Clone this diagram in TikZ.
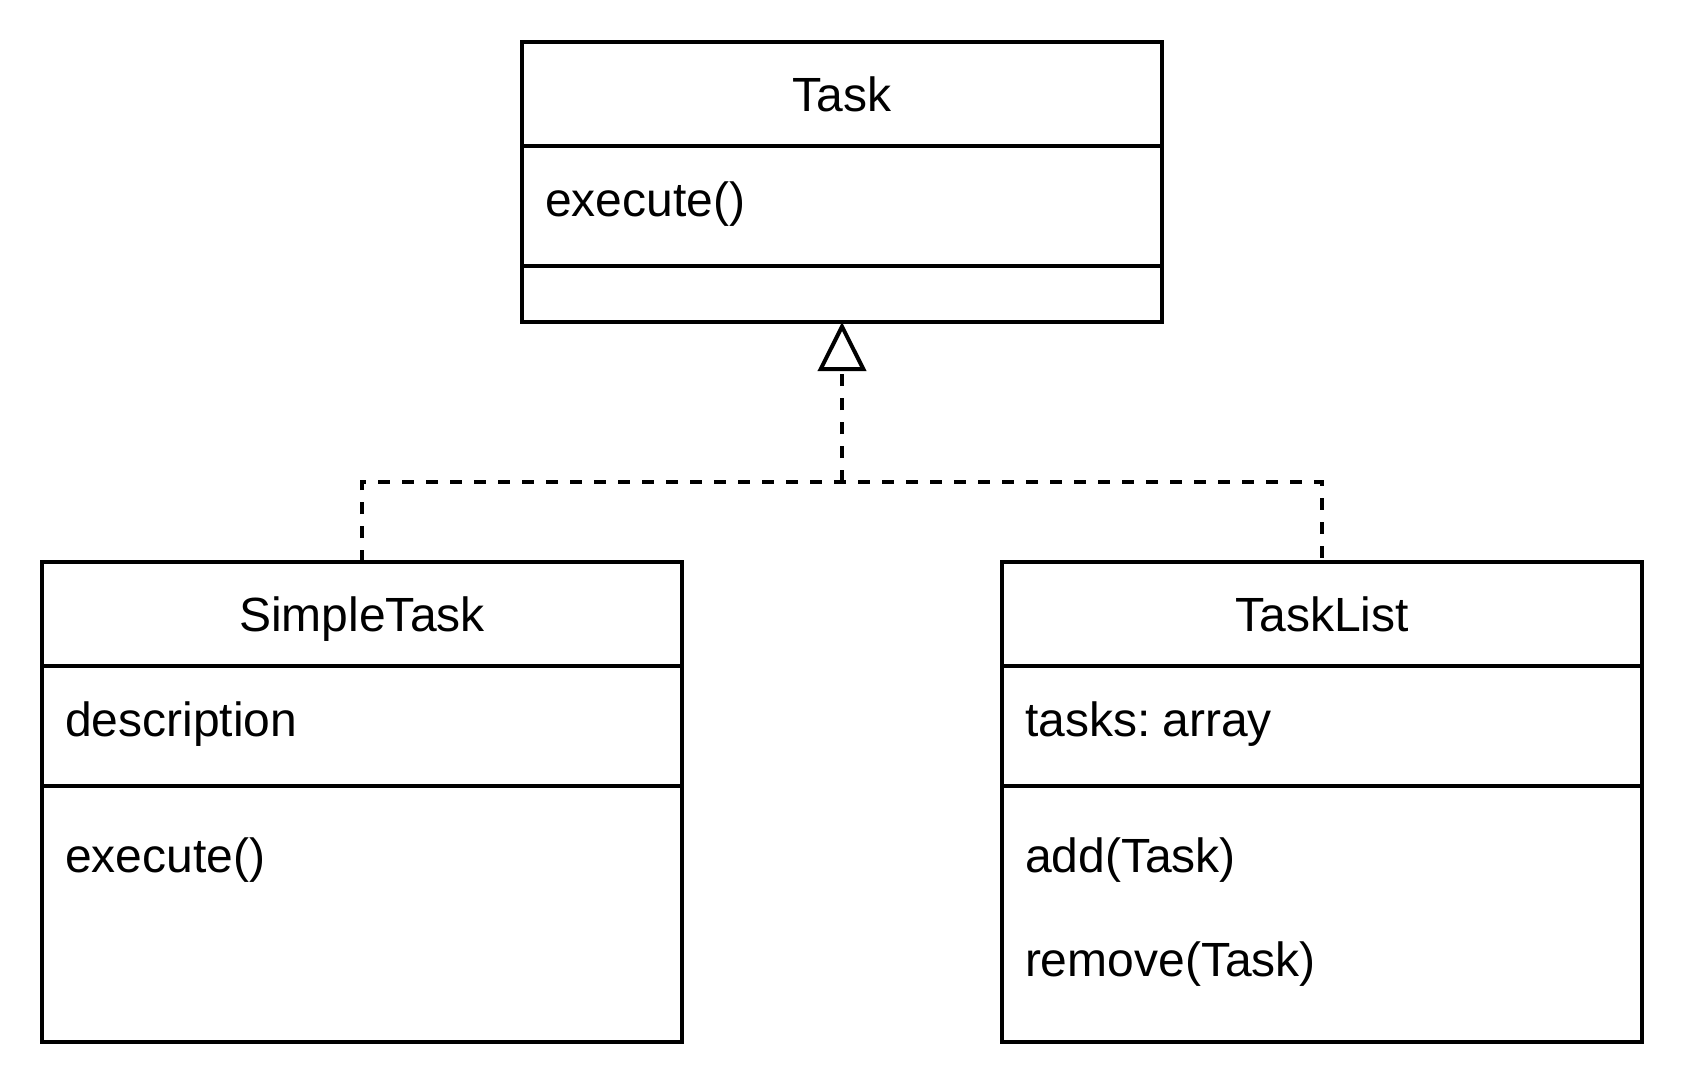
\documentclass[tikz,border=0pt]{standalone}
\usepackage{fontspec}
\setmainfont{Liberation Sans}
\usetikzlibrary{arrows.meta}
\begin{document}
\begin{tikzpicture}[x=1pt,y=-1pt,
  classbox/.style={draw=black, line width=4pt, fill=white, anchor=north west,
    minimum width=640pt, inner sep=0pt, outer sep=0pt},
  divider/.style={line width=4pt, line cap=rect},
  txt/.style={inner sep=0pt, outer sep=0pt, font=\fontsize{48}{58}\selectfont, text=black},
  dashline/.style={line width=4pt, dash pattern=on 12pt off 12pt},
  realize/.style={dashline, -{Triangle[open, length=49pt, width=48pt, line width=4pt]}}
]
\useasboundingbox (0,0) rectangle (1688,1088);
\fill[white] (0,0) rectangle (1688,1088);

% Task
\node[classbox, minimum height=280pt] (task) at (522,42) {};
\draw[divider] ([yshift=-104pt]task.north west) -- ([yshift=-104pt]task.north east);
\draw[divider] ([yshift=-224pt]task.north west) -- ([yshift=-224pt]task.north east);
\node[txt, anchor=base] (taskname) at (842,111) {Task};
\node[txt, anchor=base west] (taskop) at (545,216) {execute()};

% SimpleTask
\node[classbox, minimum height=480pt] (simple) at (42,562) {};
\draw[divider] ([yshift=-104pt]simple.north west) -- ([yshift=-104pt]simple.north east);
\draw[divider] ([yshift=-224pt]simple.north west) -- ([yshift=-224pt]simple.north east);
\node[txt, anchor=base] (simplename) at (362,631) {SimpleTask};
\node[txt, anchor=base west] (simpleattr) at (65,736) {description};
\node[txt, anchor=base west] (simpleop) at (65,872) {execute()};

% TaskList
\node[classbox, minimum height=480pt] (list) at (1002,562) {};
\draw[divider] ([yshift=-104pt]list.north west) -- ([yshift=-104pt]list.north east);
\draw[divider] ([yshift=-224pt]list.north west) -- ([yshift=-224pt]list.north east);
\node[txt, anchor=base] (listname) at (1322,631) {TaskList};
\node[txt, anchor=base west] (listattr) at (1025,736) {tasks:\hspace{0.25em}array};
\node[txt, anchor=base west] (listop1) at (1025,872) {add(Task)};
\node[txt, anchor=base west] (listop2) at (1025,976) {remove(Task)};

% Realization connectors
\coordinate (j) at (842,482);
\draw[dashline] (simple.north) |- (j) -| (list.north);
\draw[realize] (j) -- (task.south);
\end{tikzpicture}
\end{document}
